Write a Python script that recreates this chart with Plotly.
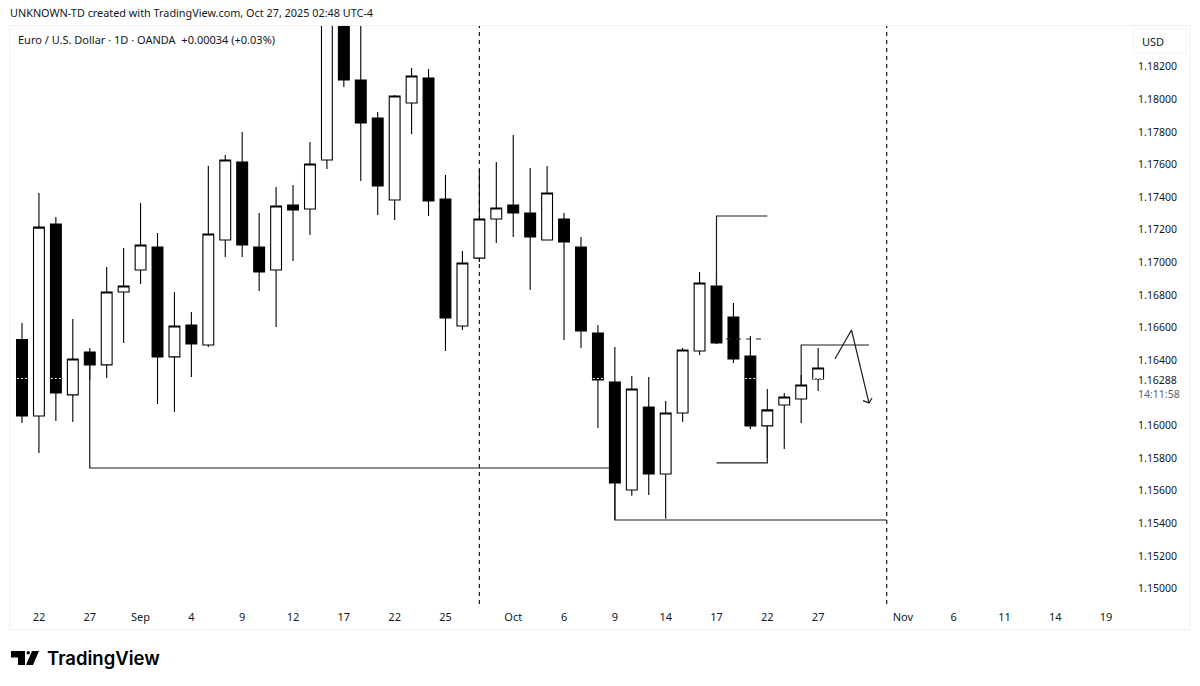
import plotly.graph_objects as go

# Daily EUR/USD candles (index = trading-day slot)
opens = [1.16527,1.16058,1.17235,1.16187,1.16450,1.16371,1.16818,1.16953,1.17094,1.16420,1.16616,1.16493,
         1.17137,1.17615,1.17094,1.16953,1.17351,1.17327,1.17627,1.18620,1.18118,1.17885,1.17382,1.17977,
         1.18130,1.17388,1.16610,1.17026,1.17266,1.17351,1.17302,1.17137,1.17266,1.17094,1.16567,1.16266,
         1.15604,1.16113,1.15702,1.16076,1.16456,1.16855,1.16665,1.16426,1.15997,1.16125,1.16162,1.16285]
highs = [1.16628,1.17425,1.17278,1.16653,1.16475,1.16971,1.17088,1.17364,1.17180,1.16818,1.16695,1.17590,
         1.17658,1.17799,1.17302,1.17462,1.17474,1.17738,1.18650,1.18700,1.18500,1.17921,1.18026,1.18191,
         1.18185,1.17535,1.17069,1.17566,1.17615,1.17780,1.17578,1.17590,1.17302,1.17155,1.16616,1.16481,
         1.16303,1.16297,1.16150,1.16475,1.16941,1.16941,1.16751,1.16548,1.16223,1.16199,1.16309,1.16475]
lows = [1.16015,1.15831,1.16027,1.16021,1.16279,1.16291,1.16505,1.16867,1.16131,1.16082,1.16297,1.16481,
        1.17033,1.17033,1.16824,1.16603,1.17008,1.17167,1.17572,1.18075,1.17498,1.17290,1.17259,1.17787,
        1.17284,1.16456,1.16585,1.17002,1.17118,1.17155,1.16830,1.17137,1.16524,1.16475,1.15984,1.15420,
        1.15568,1.15574,1.15427,1.16021,1.16432,1.16499,1.16383,1.15978,1.15800,1.15856,1.16015,1.16211]
closes = [1.16058,1.17216,1.16199,1.16407,1.16371,1.16818,1.16855,1.17106,1.16420,1.16610,1.16499,1.17174,
          1.17627,1.17106,1.16941,1.17345,1.17321,1.17603,1.18550,1.18118,1.17854,1.17468,1.18020,1.18142,
          1.17376,1.16659,1.16996,1.17266,1.17333,1.17302,1.17155,1.17425,1.17125,1.16579,1.16279,1.15647,
          1.16223,1.15702,1.16076,1.16462,1.16873,1.16505,1.16407,1.15997,1.16095,1.16174,1.16248,1.16352]
slots = list(range(len(opens)))

# Time axis labels
time_tick_slots = [1,4,7,10,13,16,19,22,25,29,32,35,38,41,44,47,52,55,58,61,64]
time_tick_text = ["22","27","Sep","4","9","12","17","22","25","Oct","6","9","14","17","22","27","Nov","6","11","14","19"]

# Price axis labels
price_ticks = [1.150,1.152,1.154,1.156,1.158,1.160,1.164,1.166,1.168,1.170,1.172,1.174,1.176,1.178,1.180,1.182]
last_price = 1.16288
last_price_slots = [0, 2, 34, 43, 47]

# Hand-drawn lines on the chart
line_a_x, line_a_y = [4,4,34.7], [1.16371,1.15739,1.15739]
line_b_x, line_b_y = [35,35,51.05], [1.15647,1.15420,1.15420]
line_c_x, line_c_y = [41,41,44], [1.16855,1.17284,1.17284]
line_d_x, line_d_y = [44,44,41], [1.15997,1.15770,1.15770]
line_e_x, line_e_y = [46,46,50], [1.16248,1.16493,1.16493]
arrow_x, arrow_y = [47.99,48.97,50.0], [1.16407,1.16585,1.16138]
head_x, head_y = [49.65,50.0,50.18], [1.16152,1.16138,1.16168]
vline_slots = [27, 51.05]
dash_x, dash_y = [41.56,43.68], [1.16530,1.16530]

INK = "#131722"
W, H = 1200, 686
L, R, T, B = 10, 1121, 26, 604
X_RANGE = [-0.708, 64.88]
Y_RANGE = [1.14905, 1.18449]


def px(v):
    return (v - L) / (R - L)


def py(v):
    return (B - v) / (B - T)


fig = go.Figure()

fig.add_trace(go.Candlestick(x=slots, open=opens, high=highs, low=lows, close=closes,
                             increasing=dict(line=dict(color="#000000", width=1.1), fillcolor="#ffffff"),
                             decreasing=dict(line=dict(color="#000000", width=1.1), fillcolor="#000000"),
                             whiskerwidth=0, showlegend=False, name="EURUSD"))

for lx, ly in [(line_a_x, line_a_y), (line_b_x, line_b_y), (line_c_x, line_c_y), (line_d_x, line_d_y),
               (line_e_x, line_e_y), (arrow_x, arrow_y), (head_x, head_y)]:
    fig.add_trace(go.Scatter(x=lx, y=ly, mode="lines", line=dict(color="#1c1c1c", width=1.2),
                             hoverinfo="skip", showlegend=False))

fig.add_trace(go.Scatter(x=dash_x, y=dash_y, mode="lines", line=dict(color="#222222", width=1.1, dash="5px,5px"),
                         hoverinfo="skip", showlegend=False))

dot_x, dot_y = [], []
for s in last_price_slots:
    dot_x += [s - 0.3, s + 0.3, None]
    dot_y += [last_price, last_price, None]
fig.add_trace(go.Scatter(x=dot_x, y=dot_y, mode="lines",
                         line=dict(color="#ffffff", width=1, dash="2px,2px"), hoverinfo="skip", showlegend=False))

FONT = "Noto Sans, sans-serif"
fig.update_layout(
    width=W, height=H,
    margin=dict(l=L, r=W - R, t=T, b=H - B, autoexpand=False),
    paper_bgcolor="#ffffff", plot_bgcolor="#ffffff",
    boxgap=0.2, boxgroupgap=0.2,
    showlegend=False, font=dict(family=FONT, color=INK),
    xaxis=dict(range=X_RANGE, tickmode="array", tickvals=time_tick_slots, ticktext=time_tick_text,
               tickangle=0,
               showgrid=False, zeroline=False, showline=False, ticks="outside", ticklen=3,
               tickcolor="rgba(0,0,0,0)", tickfont=dict(size=11, color=INK, family=FONT),
               rangeslider=dict(visible=False), fixedrange=True),
    yaxis=dict(range=Y_RANGE, side="right", tickmode="array", tickvals=price_ticks,
               ticktext=[f"{v:.5f}" for v in price_ticks],
               showgrid=False, zeroline=False, showline=False, ticks="outside", ticklen=14,
               tickcolor="rgba(0,0,0,0)", tickfont=dict(size=10.5, color=INK, family=FONT), fixedrange=True),
)

shapes = [
    dict(type="rect", xref="paper", yref="paper", x0=px(9.5), x1=px(1190), y0=py(25.5), y1=py(630),
         line=dict(color="#eff1f5", width=1), fillcolor="rgba(0,0,0,0)", layer="below"),
    # USD button
    dict(type="path", xref="paper", yref="paper",
         path=(f"M{px(1136)},{py(29)} L{px(1184)},{py(29)} Q{px(1187)},{py(29)} {px(1187)},{py(32)} "
               f"L{px(1187)},{py(50)} Q{px(1187)},{py(53)} {px(1184)},{py(53)} L{px(1136)},{py(53)} "
               f"Q{px(1133)},{py(53)} {px(1133)},{py(50)} L{px(1133)},{py(32)} Q{px(1133)},{py(29)} {px(1136)},{py(29)} Z"),
         line=dict(color="#eff1f5", width=1), fillcolor="#ffffff"),
    # logo
    dict(type="path", xref="paper", yref="paper",
         path=f"M{px(11)},{py(651)} L{px(25)},{py(651)} L{px(25)},{py(665)} L{px(18)},{py(665)} L{px(18)},{py(657.5)} L{px(11)},{py(657.5)} Z",
         fillcolor="#000000", line=dict(width=0)),
    dict(type="circle", xref="paper", yref="paper", x0=px(26.5), x1=px(30), y0=py(651), y1=py(654.5),
         fillcolor="#000000", line=dict(width=0)),
    dict(type="path", xref="paper", yref="paper",
         path=f"M{px(32)},{py(651)} L{px(39)},{py(651)} L{px(33)},{py(665)} L{px(26)},{py(665)} Z",
         fillcolor="#000000", line=dict(width=0)),
]
# Dashed session separators sit below the candles
for sx in vline_slots:
    shapes.append(dict(type="line", xref="x", yref="y", x0=sx, x1=sx, y0=Y_RANGE[0], y1=Y_RANGE[1],
                       line=dict(color="#000000", width=1.1, dash="4px,4px"), layer="below"))
fig.update_layout(shapes=shapes)


def note(text, x, y, size, color=INK, family=FONT, anchor="left", weight=None):
    fnt = dict(size=size, color=color, family=family)
    if weight:
        fnt["weight"] = weight
    fig.add_annotation(text=text, x=px(x), y=py(y), xref="paper", yref="paper", showarrow=False,
                       xanchor=anchor, yanchor="middle", font=fnt, align="left",
                       xshift=-1)


note("UNKNOWN-TD created with TradingView.com, Oct 27, 2025 02:48 UTC-4", 9, 13, 10.85)
note("Euro / U.S. Dollar · 1D · OANDA  +0.00034 (+0.03%)", 17, 39, 11)
note("USD", 1141, 41.5, 11)
note(f"{last_price:.5f}", 1137, 380, 10.5)
note("14:11:58", 1137, 393.5, 10.5, color="#5d606b")
note("TradingView", 46, 658, 18.5, color="#000000", family="Inter, sans-serif", weight=600)

fig.write_html("out.html", config=dict(displayModeBar=False),
               post_script="document.body.style.margin='0';")
